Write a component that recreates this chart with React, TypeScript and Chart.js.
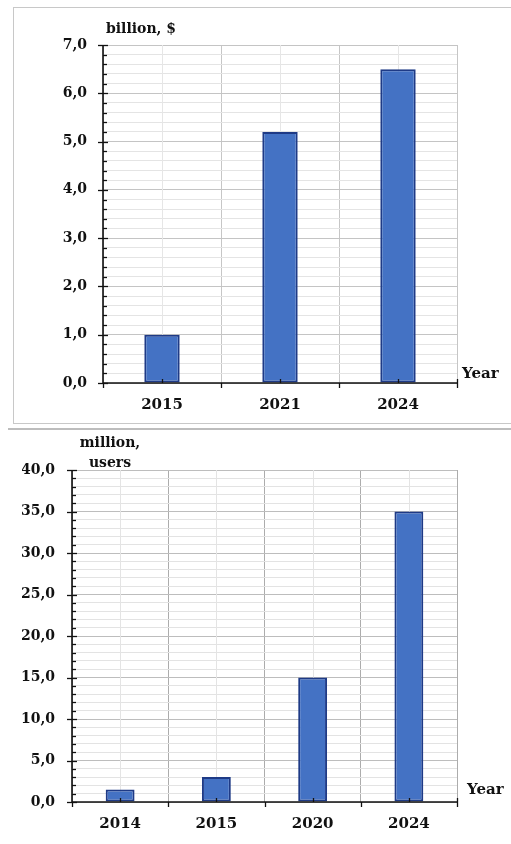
import React, { useEffect, useRef } from 'react';
import { Chart, registerables } from 'chart.js';

Chart.register(...registerables);

// ---- data ----
const revenueYears = ['2015', '2021', '2024'];
const revenueBillions = [1.0, 5.2, 6.5];
const revenueMax = 7;
const revenueMinorStep = 0.2;
const revenueMajorStep = 1;

const userYears = ['2014', '2015', '2020', '2024'];
const userMillions = [1.5, 3.0, 15.0, 35.0];
const userMax = 40;
const userMinorStep = 1;
const userMajorStep = 5;

const FONT = 'DejaVu Serif';
const TEXT = '#111';

const isMajorVal = (v: number, major: number) =>
  Math.abs(v / major - Math.round(v / major)) < 1e-6;

const axisDecor = {
  id: 'axisDecor',
  beforeDatasetsDraw(chart: any, _a: any, o: any) {
    const { ctx, chartArea } = chart;
    const xs = chart.scales.x;
    ctx.save();
    ctx.strokeStyle = o.centerColor;
    ctx.lineWidth = 1;
    const n = chart.data.labels.length;
    for (let i = 0; i < n; i++) {
      const px = Math.round(xs.getPixelForValue(i)) + 0.5;
      ctx.beginPath();
      ctx.moveTo(px, chartArea.top);
      ctx.lineTo(px, chartArea.bottom);
      ctx.stroke();
    }
    ctx.restore();
  },
  afterDraw(chart: any, _a: any, o: any) {
    const { ctx, chartArea } = chart;
    const { left, right, top, bottom } = chartArea;
    const xs = chart.scales.x;
    const ys = chart.scales.y;
    const line = (x1: number, y1: number, x2: number, y2: number) => {
      ctx.beginPath();
      ctx.moveTo(x1, y1);
      ctx.lineTo(x2, y2);
      ctx.stroke();
    };
    ctx.save();
    ctx.strokeStyle = '#111';
    ctx.lineWidth = 1.6;
    line(left, top, left, bottom + 1);
    line(left, bottom, right + 1, bottom);
    ctx.lineWidth = 1.3;
    ys.ticks.forEach((t: any) => {
      const py = Math.round(ys.getPixelForValue(t.value)) + 0.5;
      if (isMajorVal(t.value, o.major)) line(left - 5, py, left + 5, py);
      else line(left, py, left + 4, py);
    });
    const n = chart.data.labels.length;
    for (let i = 0; i <= n; i++) {
      const px = Math.round(xs.getPixelForValue(i - 0.5)) + 0.5;
      line(px, i === n ? bottom - 4 : bottom, px, bottom + 5);
    }
    for (let i = 0; i < n; i++) {
      const px = Math.round(xs.getPixelForValue(i)) + 0.5;
      line(px, bottom, px, bottom - 4);
    }
    ctx.restore();
  },
};

type Cfg = {
  labels: string[];
  values: number[];
  max: number;
  step: number;
  major: number;
  pad: { left: number; right: number; top: number; bottom: number };
  yWidth: number;
  xHeight: number;
  yPad: number;
  xPad: number;
  majorColor: string;
  minorColor: string;
  boundaryColor: string;
  centerColor: string;
};

function buildChart(canvas: HTMLCanvasElement, c: Cfg) {
  return new Chart(canvas, {
    type: 'bar',
    data: {
      labels: c.labels,
      datasets: [
        {
          data: c.values,
          backgroundColor: '#4472C4',
          borderColor: '#1E3A86',
          borderWidth: 2,
          borderSkipped: false,
          barPercentage: 0.3,
          categoryPercentage: 1,
        },
      ],
    },
    options: {
      responsive: false,
      animation: false,
      layout: { padding: c.pad },
      plugins: {
        legend: { display: false },
        tooltip: { enabled: false },
        title: { display: false },
        axisDecor: { major: c.major, centerColor: c.centerColor },
      } as any,
      scales: {
        x: {
          offset: true,
          grid: { offset: true, color: c.boundaryColor, lineWidth: 1, drawTicks: false },
          border: { display: false },
          ticks: {
            color: TEXT,
            font: { family: FONT, weight: 'bold', size: 15 },
            padding: c.xPad,
            maxRotation: 0,
            autoSkip: false,
          },
          afterFit: (s: any) => {
            s.height = c.xHeight;
          },
        },
        y: {
          min: 0,
          max: c.max,
          grid: {
            color: (ctx: any) =>
              ctx.tick && isMajorVal(ctx.tick.value, c.major) ? c.majorColor : c.minorColor,
            lineWidth: 1,
            drawTicks: false,
          },
          border: { display: false },
          ticks: {
            stepSize: c.step,
            autoSkip: false,
            color: TEXT,
            font: { family: FONT, weight: 'bold', size: 14 },
            padding: c.yPad,
            callback: (v: any) =>
              isMajorVal(Number(v), c.major) ? Number(v).toFixed(1).replace('.', ',') : '',
          },
          afterFit: (s: any) => {
            s.width = c.yWidth;
          },
        },
      },
    } as any,
    plugins: [axisDecor as any],
  });
}

const textStyle: React.CSSProperties = {
  position: 'absolute',
  fontFamily: FONT,
  fontWeight: 'bold',
  color: TEXT,
  whiteSpace: 'nowrap',
};

export default function App() {
  const topRef = useRef<HTMLCanvasElement>(null);
  const botRef = useRef<HTMLCanvasElement>(null);

  useEffect(() => {
    const a = buildChart(topRef.current!, {
      labels: revenueYears,
      values: revenueBillions,
      max: revenueMax,
      step: revenueMinorStep,
      major: revenueMajorStep,
      pad: { left: 43, right: 54, top: 45, bottom: 13 },
      yWidth: 60,
      xHeight: 30,
      yPad: 16,
      xPad: 13,
      majorColor: '#c4c4c4',
      minorColor: '#e4e4e4',
      boundaryColor: '#c6c6c6',
      centerColor: '#e6e6e6',
    });
    const b = buildChart(botRef.current!, {
      labels: userYears,
      values: userMillions,
      max: userMax,
      step: userMinorStep,
      major: userMajorStep,
      pad: { left: 22, right: 54, top: 42, bottom: 12 },
      yWidth: 50,
      xHeight: 30,
      yPad: 17,
      xPad: 13,
      majorColor: '#bdbdbd',
      minorColor: '#e3e3e3',
      boundaryColor: '#acacac',
      centerColor: '#e4e4e4',
    });
    return () => {
      a.destroy();
      b.destroy();
    };
  }, []);

  return (
    <div
      style={{
        position: 'absolute',
        left: 0,
        top: 0,
        width: 511,
        height: 844,
        overflow: 'hidden',
        background: '#fff',
      }}
    >
      {/* frame of upper figure (right edge runs past the picture) */}
      <div
        style={{
          position: 'absolute',
          left: 13,
          top: 7,
          width: 520,
          height: 415,
          border: '1px solid #c8c8c8',
        }}
      />
      {/* top edge of lower figure */}
      <div
        style={{
          position: 'absolute',
          left: 8,
          top: 428,
          width: 503,
          height: 0,
          borderTop: '2px solid #bdbdbd',
        }}
      />
      <canvas
        ref={topRef}
        width={511}
        height={426}
        style={{ position: 'absolute', left: 0, top: 0, width: 511, height: 426 }}
      />
      <canvas
        ref={botRef}
        width={511}
        height={416}
        style={{ position: 'absolute', left: 0, top: 428, width: 511, height: 416 }}
      />
      <div style={{ ...textStyle, left: 106, top: 20, fontSize: 14, lineHeight: '16px' }}>
        billion, $
      </div>
      <div style={{ ...textStyle, left: 462, top: 364, fontSize: 15, lineHeight: '18px' }}>
        Year
      </div>
      <div
        style={{
          ...textStyle,
          left: 70,
          top: 432,
          width: 80,
          textAlign: 'center',
          fontSize: 14,
          lineHeight: '20px',
        }}
      >
        million,
        <br />
        users
      </div>
      <div style={{ ...textStyle, left: 467, top: 780, fontSize: 15, lineHeight: '18px' }}>
        Year
      </div>
    </div>
  );
}
